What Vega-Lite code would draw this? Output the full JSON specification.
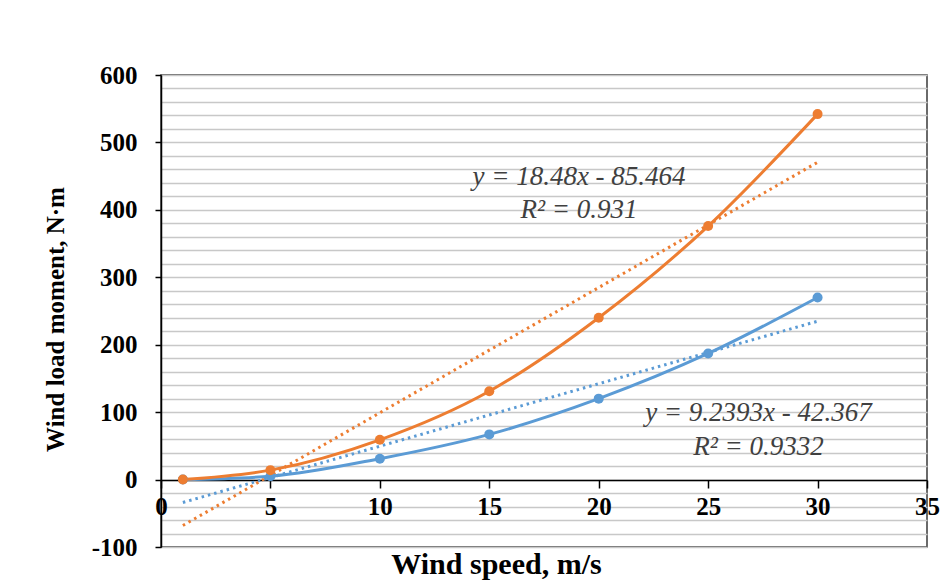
{
  "$schema": "https://vega.github.io/schema/vega-lite/v6.json",
  "width": 766,
  "height": 472,
  "autosize": {"type": "none"},
  "padding": {"left": 161, "top": 75, "right": 17, "bottom": 34},
  "background": "white",
  "config": {
    "view": {"stroke": "#3a3a3a", "strokeWidth": 1.5},
    "font": "Liberation Serif"
  },
  "datasets": {
    "pts": [
      {"speed": 1, "moment": 0, "case": "blue"},
      {"speed": 5, "moment": 5, "case": "blue"},
      {"speed": 10, "moment": 31, "case": "blue"},
      {"speed": 15, "moment": 67, "case": "blue"},
      {"speed": 20, "moment": 120, "case": "blue"},
      {"speed": 25, "moment": 187, "case": "blue"},
      {"speed": 30, "moment": 270, "case": "blue"},
      {"speed": 1, "moment": 0, "case": "orange"},
      {"speed": 5, "moment": 14, "case": "orange"},
      {"speed": 10, "moment": 59, "case": "orange"},
      {"speed": 15, "moment": 131, "case": "orange"},
      {"speed": 20, "moment": 240, "case": "orange"},
      {"speed": 25, "moment": 376, "case": "orange"},
      {"speed": 30, "moment": 542, "case": "orange"}
    ],
    "labels": [
      {"speed": 19.1, "moment": 448, "label": "y = 18.48x - 85.464"},
      {"speed": 19.1, "moment": 400, "label": "R² = 0.931"},
      {"speed": 27.3, "moment": 98, "label": "y = 9.2393x - 42.367"},
      {"speed": 27.3, "moment": 49, "label": "R² = 0.9332"}
    ]
  },
  "layer": [
    {
      "data": {"name": "pts"},
      "transform": [{"regression": "moment", "on": "speed", "groupby": ["case"], "method": "linear", "extent": [1, 30]}],
      "mark": {"type": "line", "strokeDash": [2.5, 4], "strokeWidth": 3},
      "encoding": {
        "x": {
          "field": "speed", "type": "quantitative",
          "scale": {"domain": [0, 35], "nice": false, "zero": false},
          "axis": {
            "values": [0, 5, 10, 15, 20, 25, 30, 35],
            "tickCount": 20,
            "offset": -67,
            "grid": false,
            "labelOverlap": false,
            "domainColor": "#000000",
            "domainWidth": 1.5,
            "tickColor": "#000000",
            "tickSize": 8,
            "tickWidth": 1.5,
            "labelExpr": "toString(datum.value)",
            "labelFont": "Liberation Serif",
            "labelFontWeight": "bold",
            "labelFontSize": 25,
            "labelColor": "#000000",
            "labelPadding": 6,
            "labelFlush": false,
            "title": "Wind speed, m/s",
            "titleFont": "Liberation Serif",
            "titleFontWeight": "bold",
            "titleFontSize": 30,
            "titleColor": "#000000",
            "titleX": 335,
            "titleY": 84,
            "titleAlign": "center",
            "titleBaseline": "middle"
          }
        },
        "y": {
          "field": "moment", "type": "quantitative",
          "scale": {"domain": [-100, 600], "nice": false, "zero": false},
          "axis": {
            "values": [-100, -80, -60, -40, -20, 0, 20, 40, 60, 80, 100, 120, 140, 160, 180, 200, 220, 240, 260, 280, 300, 320, 340, 360, 380, 400, 420, 440, 460, 480, 500, 520, 540, 560, 580, 600],
            "tickCount": 60,
            "grid": true,
            "labelOverlap": false,
            "gridColor": "#c8c8c8",
            "gridWidth": 1.5,
            "domainColor": "#000000",
            "domainWidth": 1.5,
            "tickColor": "#000000",
            "tickSize": 6,
            "tickWidth": 1.5,
            "tickOpacity": {"condition": {"test": "datum.value % 100 === 0", "value": 1}, "value": 0},
            "labelExpr": "datum.value % 100 === 0 ? toString(datum.value) : ''",
            "labelFont": "Liberation Serif",
            "labelFontWeight": "bold",
            "labelFontSize": 25,
            "labelColor": "#000000",
            "labelPadding": 18,
            "title": "Wind load moment, N·m",
            "titleFont": "Liberation Serif",
            "titleFontWeight": "bold",
            "titleFontSize": 25,
            "titleColor": "#000000",
            "titleX": -106,
            "titleY": 244,
            "titleAngle": -90,
            "titleAlign": "center",
            "titleBaseline": "middle"
          }
        },
        "color": {
          "field": "case", "type": "nominal",
          "scale": {"domain": ["blue", "orange"], "range": ["#5B9BD5", "#ED7D31"]},
          "legend": null
        }
      }
    },
    {
      "data": {"name": "pts"},
      "mark": {"type": "line", "interpolate": "monotone", "strokeWidth": 3},
      "encoding": {
        "x": {"field": "speed", "type": "quantitative"},
        "y": {"field": "moment", "type": "quantitative"},
        "color": {"field": "case", "type": "nominal", "legend": null},
        "detail": {"field": "case"}
      }
    },
    {
      "data": {"name": "pts"},
      "mark": {"type": "circle", "size": 100, "opacity": 1},
      "encoding": {
        "x": {"field": "speed", "type": "quantitative"},
        "y": {"field": "moment", "type": "quantitative"},
        "color": {"field": "case", "type": "nominal", "legend": null}
      }
    },
    {
      "data": {"name": "labels"},
      "mark": {"type": "text", "font": "Liberation Serif", "fontStyle": "italic", "fontSize": 27, "color": "#404040", "align": "center", "baseline": "middle"},
      "encoding": {
        "x": {"field": "speed", "type": "quantitative"},
        "y": {"field": "moment", "type": "quantitative"},
        "text": {"field": "label"}
      }
    }
  ]
}
